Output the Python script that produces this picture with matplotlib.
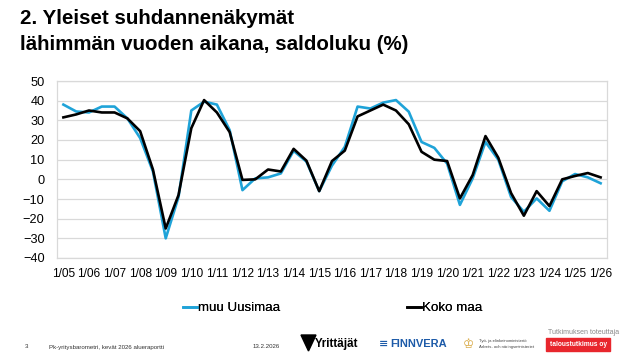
import numpy as np
import matplotlib
matplotlib.use('Agg')
import matplotlib.pyplot as plt
from matplotlib.patches import Rectangle, Polygon

plt.rcParams['font.family'] = ['Liberation Sans', 'DejaVu Sans']

# half-year observations 1/05 ... 1/26
years = ['05', '06', '07', '08', '09', '10', '11', '12', '13', '14', '15',
         '16', '17', '18', '19', '20', '21', '22', '23', '24', '25', '26']
tick_labels = ['1/' + y for y in years]

muu_uusimaa = [38, 34.5, 34, 37, 37, 31, 21, 4, -30, -9,
               35, 39.5, 38, 25, -5.5, 0.5, 1, 3, 14.5, 9,
               -6, 7, 16.5, 37, 36, 39, 40.3, 34.4, 19, 16,
               8, -13, 0.5, 19, 10, -9, -16.5, -9.7, -16, -1,
               2.7, 1, -2]
koko_maa = [31.5, 33, 35, 34, 34, 31, 24.5, 5, -25, -8,
            26, 40.3, 34, 24, -0.3, 0, 5, 4, 15.5, 9.5,
            -6, 9.3, 14.6, 32, 35, 38, 35, 28, 14, 10,
            9.3, -9.7, 2.2, 22, 11, -7, -18.5, -6, -13.6, 0,
            1.7, 3.2, 1]

x = np.arange(len(koko_maa))
W, H = 642, 359

fig = plt.figure(figsize=(W / 100, H / 100), dpi=100)
ax = fig.add_axes([57 / W, 1 - 258 / H, 550 / W, 177 / H])

l1, = ax.plot(x, muu_uusimaa, color='#1fa3d8', lw=1.9, zorder=3)
l2, = ax.plot(x, koko_maa, color='black', lw=1.9, zorder=4)

ax.set_xlim(-0.5, len(x) - 0.5)
ax.set_ylim(-40, 50)
ax.set_yticks(range(-40, 51, 10))
ax.set_xticks(x[::2])
ax.set_xticklabels(tick_labels)
ax.tick_params(axis='both', length=0, colors='black')
ax.tick_params(axis='x', pad=7, labelsize=8.6)
ax.tick_params(axis='y', pad=9, labelsize=9.2)
ax.grid(axis='y', color='#d9d9d9', lw=0.9)
ax.set_axisbelow(True)
for s in ax.spines.values():
    s.set_color('#d9d9d9')
    s.set_linewidth(0.9)

# legend, two entries placed apart like the original
for handle, name, px in [(l1, 'muu Uusimaa', 183), (l2, 'Koko maa', 407)]:
    lg = fig.legend([handle], [name], loc='center left',
                    bbox_to_anchor=(px / W, 1 - 308 / H), frameon=False,
                    fontsize=9.6, handlelength=1.05, handletextpad=0.1,
                    borderpad=0, borderaxespad=0)
    fig.add_artist(lg)

# title
fig.text(20 / W, 1 - 19 / H, '2. Yleiset suhdannenäkymät',
         fontsize=14.8, fontweight='bold', va='center', ha='left')
fig.text(20 / W, 1 - 44 / H, 'lähimmän vuoden aikana, saldoluku (%)',
         fontsize=14.8, fontweight='bold', va='center', ha='left')

# footer
fy = 1 - 347 / H
fig.text(25 / W, fy, '3', fontsize=4.4, va='center', color='#333333')
fig.text(49 / W, fy, 'Pk-yritysbarometri, kevät 2026 alueraportti',
         fontsize=4.4, va='center', color='#333333')
fig.text(253 / W, fy, '13.2.2026', fontsize=4.4, va='center', color='#333333')
fig.patches.append(Polygon([(301 / W, 1 - 335 / H), (316 / W, 1 - 335 / H),
                            (308.5 / W, 1 - 351 / H)], closed=True,
                           transform=fig.transFigure, color='black'))
fig.text(315 / W, 1 - 344 / H, 'Yrittäjät', fontsize=8.4, fontweight='bold',
         va='center', color='black')
fig.text(379 / W, 1 - 344 / H, '≡', fontsize=8, fontweight='bold',
         va='center', color='#1c5aa8', family=['DejaVu Sans'])
fig.text(390 / W, 1 - 344 / H, 'FINNVERA', fontsize=8, fontweight='bold',
         va='center', color='#1c5aa8')
fig.text(463 / W, 1 - 344 / H, '♔', fontsize=9, va='center', color='#d6a43a',
         family=['DejaVu Sans'])
fig.text(479 / W, 1 - 341 / H, 'Työ- ja elinkeinoministeriö', fontsize=3.1,
         va='center', color='#444444')
fig.text(479 / W, 1 - 347 / H, 'Arbets- och näringsministeriet', fontsize=3.1,
         va='center', color='#444444')
fig.text(548 / W, 1 - 333 / H, 'Tutkimuksen toteuttaja', fontsize=5.0,
         va='center', color='#888888')
fig.patches.append(Rectangle((546 / W, 1 - 351 / H), 64 / W, 13 / H,
                             transform=fig.transFigure, color='#e8262d'))
fig.text(578 / W, 1 - 344.5 / H, 'taloustutkimus oy', fontsize=4.8,
         fontweight='bold', va='center', ha='center', color='white')

fig.savefig('out.png', dpi=100)
